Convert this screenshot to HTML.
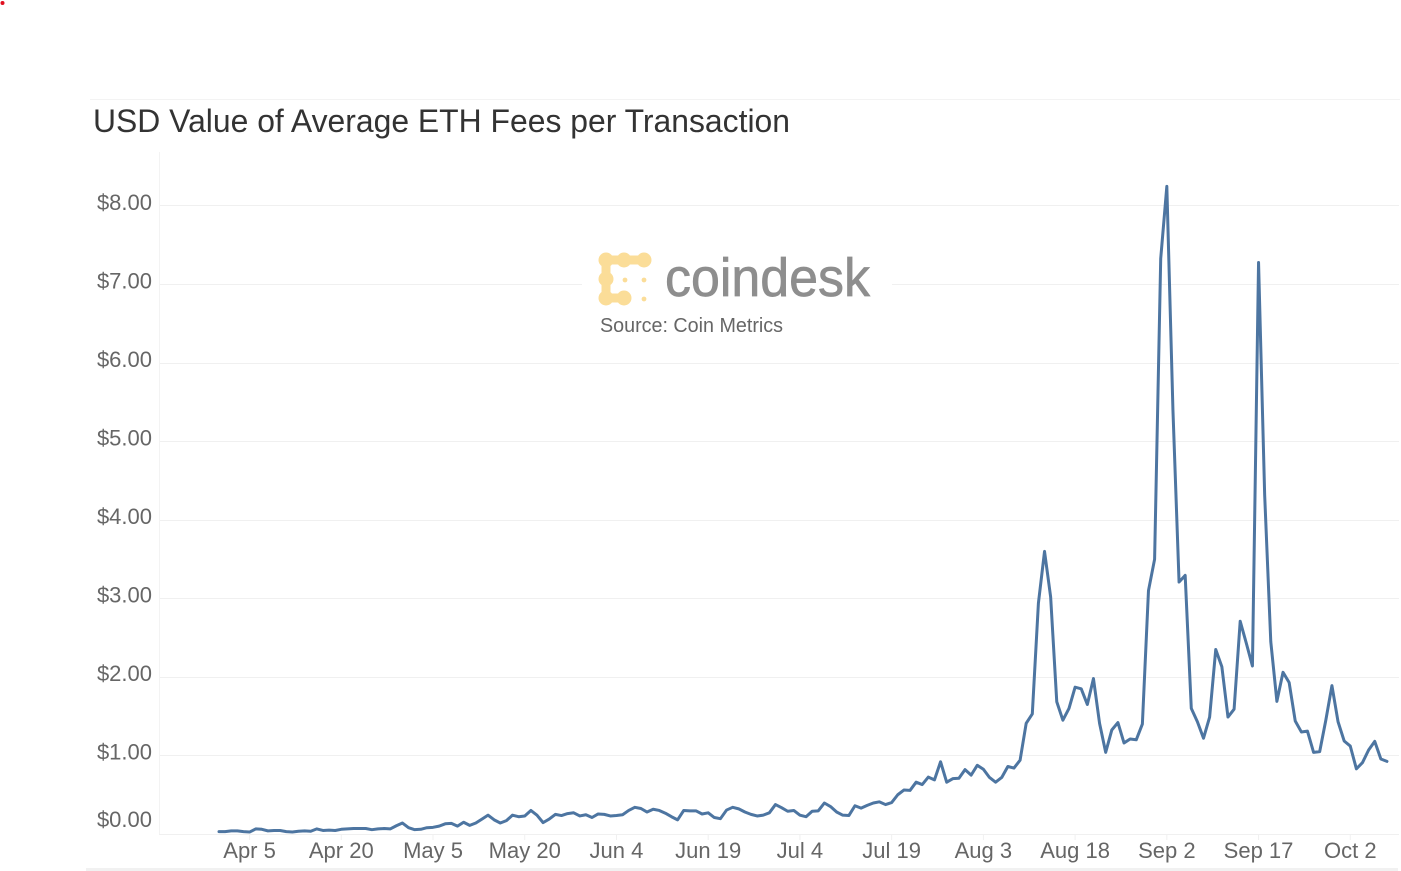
<!DOCTYPE html>
<html lang="en">
<head>
<meta charset="utf-8">
<title>USD Value of Average ETH Fees per Transaction</title>
<style>
html,body{margin:0;padding:0;background:#fff;width:1401px;height:871px;overflow:hidden}
svg{display:block;font-family:"Liberation Sans",Arial,sans-serif}
</style>
</head>
<body>
<svg id="chart" width="1401" height="871" viewBox="0 0 1401 871">
  <rect x="0" y="0" width="1401" height="871" fill="#fff"/>
  <circle cx="2.5" cy="3" r="2" fill="#e01020"/>
  <line x1="90" y1="99.5" x2="1400" y2="99.5" stroke="#f3f3f3"/>
  <text x="93" y="132" font-size="32" fill="#333333" textLength="697" lengthAdjust="spacingAndGlyphs">USD Value of Average ETH Fees per Transaction</text>
  <rect x="86" y="868" width="1312" height="3" fill="#f1f1f1"/>
  <g id="grid"></g>
  <g id="xaxis"></g>
  <g id="yaxis"></g>
  <g>
    <rect x="582" y="240" width="310" height="100" fill="#fff"/>
    <g fill="none" stroke="#fbdd98" stroke-width="9" stroke-linecap="round">
      <path d="M606 260 L644 260"/>
      <path d="M606 260 L606 298"/>
      <path d="M606 298 L624 298"/>
    </g>
    <g fill="#fbdd98">
      <circle cx="606" cy="260" r="7.5"/>
      <circle cx="624" cy="260" r="7.5"/>
      <circle cx="644" cy="260" r="7.5"/>
      <circle cx="606" cy="279" r="7.5"/>
      <circle cx="606" cy="298" r="7.5"/>
      <circle cx="624" cy="298" r="7.5"/>
    </g>
    <g fill="#fbdd98">
      <circle cx="625" cy="280" r="2.4"/>
      <circle cx="644" cy="280" r="2.4"/>
      <circle cx="644" cy="299" r="2.4"/>
    </g>
    <text x="665" y="296" font-size="54" fill="#8e8e8e" stroke="#8e8e8e" stroke-width="0.7" textLength="205" lengthAdjust="spacingAndGlyphs">coindesk</text>
    <text x="600" y="332" font-size="20" fill="#666666" textLength="183" lengthAdjust="spacingAndGlyphs">Source: Coin Metrics</text>
  </g>
  <polyline id="series" fill="none" stroke="#4d75a1" stroke-width="3" stroke-linejoin="round" stroke-linecap="round"/>
</svg>
<script>
const values = [
  0.03,0.03,0.04,0.04,0.03,0.025,0.065,0.06,0.04,0.045,0.045,
  0.03,0.025,0.035,0.04,0.035,0.065,0.045,0.05,0.045,0.06,
  0.065,0.07,0.07,0.07,0.055,0.065,0.07,0.065,0.105,
  0.14,0.08,0.055,0.06,0.08,0.085,0.10,0.13,0.135,0.10,
  0.15,0.11,0.14,0.19,0.24,0.18,0.14,0.17,0.24,0.22,
  0.23,0.30,0.24,0.145,0.19,0.25,0.235,0.26,0.27,0.23,
  0.245,0.21,0.255,0.25,0.23,0.235,0.245,0.30,0.34,0.325,
  0.28,0.315,0.30,0.265,0.22,0.18,0.30,0.295,0.295,0.255,
  0.27,0.21,0.195,0.305,0.34,0.32,0.28,0.25,0.23,0.24,
  0.27,0.375,0.335,0.29,0.30,0.24,0.22,0.29,0.295,0.395,
  0.35,0.28,0.24,0.235,0.36,0.33,0.365,0.395,0.41,0.375,
  0.40,0.50,0.56,0.555,0.66,0.63,0.725,0.69,0.92,0.66,
  0.705,0.71,0.82,0.75,0.875,0.825,0.72,0.66,0.72,0.86,
  0.84,0.94,1.41,1.53,2.94,3.60,3.02,1.685,1.45,1.60,
  1.87,1.85,1.65,1.98,1.41,1.04,1.325,1.42,1.16,1.21,
  1.20,1.40,3.10,3.50,7.33,8.25,5.40,3.21,3.295,1.60,
  1.43,1.22,1.49,2.35,2.13,1.49,1.59,2.71,2.43,2.14,
  7.28,4.32,2.45,1.69,2.06,1.93,1.44,1.30,1.31,1.04,
  1.05,1.45,1.89,1.43,1.185,1.12,0.83,0.91,1.07,1.18,
  0.955,0.925
];
const xTickLabels = ["Apr 5","Apr 20","May 5","May 20","Jun 4","Jun 19","Jul 4","Jul 19","Aug 3","Aug 18","Sep 2","Sep 17","Oct 2"];
const xTickDays = [5,20,35,50,65,80,95,110,125,140,155,170,185];
const yTicks = [0,1,2,3,4,5,6,7,8];

const svgNS = "http://www.w3.org/2000/svg";
function xScale(day){ return 219 + day * 6.115; }
function yScale(v){ return 834 - v * 78.5; }
function gridY(t){ return Math.round(833.85 - t * 78.55) + 0.5; }
function make(tag, attrs){
  const el = document.createElementNS(svgNS, tag);
  for (const k in attrs) el.setAttribute(k, attrs[k]);
  return el;
}
const grid = document.getElementById("grid");
const xaxis = document.getElementById("xaxis");
const yaxis = document.getElementById("yaxis");








const axisLine = make("line", {x1:159.5, y1:152, x2:159.5, y2:834, stroke:"#f3f3f3"});


yaxis.appendChild(axisLine);

yTicks.forEach(function(t){
  const yy = gridY(t);
  const g = make("line", {x1:159, y1:yy, x2:1399, y2:yy, stroke:"#f0f0f0"});
  
  
  grid.appendChild(g);
  const label = make("text", {x:152, y:yScale(t) + (t === 0 ? -7 : 4), "text-anchor":"end", "font-size":22, fill:"#666666"});
  
  
  label.textContent = "$" + t.toFixed(2);
  yaxis.appendChild(label);
});

xTickDays.forEach(function(d, i){
  const xx = xScale(d);
  const tick = make("line", {x1:xx, y1:834, x2:xx, y2:840, stroke:"#f0f0f0"});
  
  
  xaxis.appendChild(tick);
  const label = make("text", {x:xx, y:858, "text-anchor":"middle", "font-size":22, fill:"#666666"});
  
  
  label.textContent = xTickLabels[i];
  xaxis.appendChild(label);
});

document.getElementById("series").setAttribute("points",
  values.map(function(v, i){ return xScale(i).toFixed(2) + "," + yScale(v).toFixed(2); }).join(" "));
</script>
</body>
</html>
